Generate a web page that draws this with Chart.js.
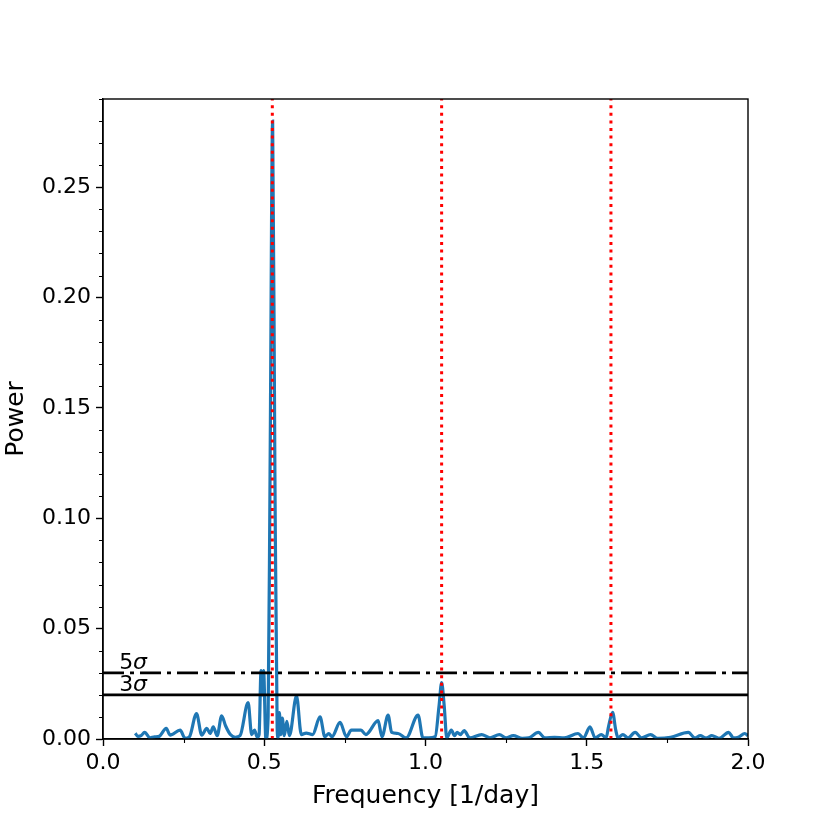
<!DOCTYPE html>
<html>
<head>
<meta charset="utf-8">
<script src="https://cdn.jsdelivr.net/npm/chart.js@4.4.1/dist/chart.umd.min.js"></script>
<style>
html,body{margin:0;padding:0;background:#fff;}
#wrap{width:830px;height:830px;}
</style>
</head>
<body>
<div id="wrap"><canvas id="c" width="830" height="830"></canvas></div>
<script>
// ---- data ----
const freq = [0.100,0.108,0.118,0.129,0.146,0.160,0.174,0.196,0.208,0.214,0.239,0.255,0.268,0.290,0.306,0.322,0.332,0.342,0.354,0.368,0.380,0.395,0.410,0.425,0.450,0.461,0.470,0.478,0.484,0.490,0.494,0.498,0.505,0.512,0.518,0.526,0.533,0.540,0.543,0.547,0.551,0.556,0.562,0.570,0.578,0.600,0.615,0.630,0.650,0.673,0.688,0.700,0.710,0.735,0.755,0.770,0.800,0.815,0.853,0.865,0.884,0.895,0.915,0.940,0.977,0.992,1.010,1.030,1.042,1.050,1.058,1.066,1.080,1.090,1.098,1.108,1.120,1.137,1.174,1.200,1.229,1.250,1.272,1.300,1.320,1.350,1.370,1.400,1.430,1.473,1.490,1.510,1.526,1.545,1.560,1.568,1.580,1.590,1.597,1.612,1.628,1.650,1.670,1.698,1.720,1.760,1.815,1.835,1.852,1.870,1.888,1.910,1.940,1.955,1.970,1.990,2.000];
const power = [0.0026,0.0012,0.0015,0.0030,0.0005,0.0010,0.0012,0.0048,0.0018,0.0020,0.0040,0.0003,0.0010,0.0115,0.0018,0.0048,0.0025,0.0055,0.0015,0.0105,0.0060,0.0020,0.0008,0.0015,0.0165,0.0020,0.0040,0.0008,0.0020,0.0310,0.0200,0.0310,0.0000,0.0100,0.1200,0.2800,0.1200,0.0050,0.0005,0.0120,0.0020,0.0095,0.0015,0.0080,0.0015,0.0195,0.0020,0.0027,0.0020,0.0100,0.0010,0.0025,0.0010,0.0075,0.0010,0.0040,0.0040,0.0020,0.0083,0.0010,0.0108,0.0030,0.0025,0.0005,0.0108,0.0005,0.0005,0.0010,0.0150,0.0255,0.0150,0.0005,0.0040,0.0015,0.0030,0.0020,0.0038,0.0005,0.0020,0.0005,0.0020,0.0005,0.0015,0.0003,0.0005,0.0030,0.0005,0.0008,0.0005,0.0025,0.0005,0.0055,0.0005,0.0020,0.0005,0.0060,0.0121,0.0040,0.0005,0.0020,0.0005,0.0030,0.0005,0.0020,0.0003,0.0008,0.0030,0.0005,0.0015,0.0005,0.0015,0.0003,0.0030,0.0005,0.0008,0.0025,0.0015];
const harmonics = [0.525, 1.050, 1.575];
const sigma5 = 0.030;
const sigma3 = 0.020;
const sigmaLabels = ["5", "3"];
const xTickStep = 0.5, xMinorStep = 0.25;
const yTickStep = 0.05, yMinorStep = 0.01;
const xMin = 0, xMax = 2.0, yMin = 0, yMax = 0.29;

const FONT = "'DejaVu Sans', sans-serif";

const datasets = [];
datasets.push({
  label: 'power', data: freq.map((f,i)=>({x:f,y:power[i]})),
  borderColor: '#1f77b4', borderWidth: 3.2, pointRadius: 0, fill: false,
  cubicInterpolationMode: 'monotone', order: 10
});
harmonics.forEach(h => datasets.push({
  label: 'h', data: [{x:h,y:yMin},{x:h,y:yMax}], borderColor: '#ff0000',
  borderWidth: 3, borderDash: [3, 4.6], pointRadius: 0, order: 1
}));
datasets.push({
  label: '5s', data: [{x:xMin,y:sigma5},{x:xMax,y:sigma5}], borderColor: '#000',
  borderWidth: 2.8, borderDash: [21, 6, 4, 6], pointRadius: 0, order: 2
});
datasets.push({
  label: '3s', data: [{x:xMin,y:sigma3},{x:xMax,y:sigma3}], borderColor: '#000',
  borderWidth: 2.8, pointRadius: 0, order: 2
});

const extras = {
  id: 'extras',
  afterDatasetsDraw(chart) {
    const ctx = chart.ctx, a = chart.chartArea;
    const xs = chart.scales.x, ys = chart.scales.y;
    ctx.save();
    // sigma labels
    ctx.fillStyle = '#000';
    ctx.textBaseline = 'alphabetic';
    [[sigma5, sigmaLabels[0]], [sigma3, sigmaLabels[1]]].forEach(([v, t]) => {
      const px = xs.getPixelForValue(0.05), py = ys.getPixelForValue(v) - 4;
      ctx.font = '22px ' + FONT;
      ctx.fillText(t, px, py);
      const w = ctx.measureText(t).width;
      ctx.font = 'italic 22px ' + FONT;
      ctx.fillText('σ', px + w, py);
    });
    // frame
    ctx.strokeStyle = '#000'; ctx.lineWidth = 1.4;
    ctx.strokeRect(a.left, a.top, a.right - a.left, a.bottom - a.top);
    // minor ticks
    ctx.lineWidth = 1.1;
    ctx.beginPath();
    for (let k = 0; k * xMinorStep <= xMax + 1e-9; k++) {
      const v = k * xMinorStep;
      if (Math.abs(v / xTickStep - Math.round(v / xTickStep)) < 1e-6) continue;
      const px = Math.round(xs.getPixelForValue(v)) + 0.5;
      ctx.moveTo(px, a.bottom); ctx.lineTo(px, a.bottom + 4);
    }
    for (let k = 0; k * yMinorStep <= yMax + 1e-9; k++) {
      const v = k * yMinorStep;
      if (Math.abs(v / yTickStep - Math.round(v / yTickStep)) < 1e-6) continue;
      const py = Math.round(ys.getPixelForValue(v)) + 0.5;
      ctx.moveTo(a.left, py); ctx.lineTo(a.left - 4, py);
    }
    ctx.stroke();
    ctx.restore();
  }
};

new Chart(document.getElementById('c'), {
  type: 'line',
  data: { datasets },
  options: {
    responsive: false, animation: false, devicePixelRatio: 1,
    layout: { padding: { left: 0, top: 99, right: 82, bottom: 19 } },
    plugins: { legend: { display: false }, tooltip: { enabled: false } },
    scales: {
      x: {
        type: 'linear', min: xMin, max: xMax,
        afterFit(s) { s.height = 72; },
        grid: { display: true, drawOnChartArea: false, drawTicks: true, tickLength: 7, tickWidth: 1.4, tickColor: '#000' },
        border: { display: true, color: '#000', width: 1.4 },
        ticks: { stepSize: xTickStep, includeBounds: false, maxRotation: 0, color: '#000', padding: 4,
          font: { family: FONT, size: 22 }, callback: v => Number(v).toFixed(1) },
        title: { display: true, text: 'Frequency [1/day]', color: '#000',
          font: { family: FONT, size: 25 }, padding: { top: 2, bottom: 0 } }
      },
      y: {
        type: 'linear', min: yMin, max: yMax,
        afterFit(s) { s.width = 103; },
        grid: { display: true, drawOnChartArea: false, drawTicks: true, tickLength: 7, tickWidth: 1.4, tickColor: '#000' },
        border: { display: true, color: '#000', width: 1.4 },
        ticks: { stepSize: yTickStep, includeBounds: false, color: '#000', padding: 5,
          font: { family: FONT, size: 22 }, callback: v => Number(v).toFixed(2) },
        title: { display: true, text: 'Power', color: '#000',
          font: { family: FONT, size: 25 }, padding: { top: 1, bottom: 0 } }
      }
    }
  },
  plugins: [extras]
});
</script>
</body>
</html>
